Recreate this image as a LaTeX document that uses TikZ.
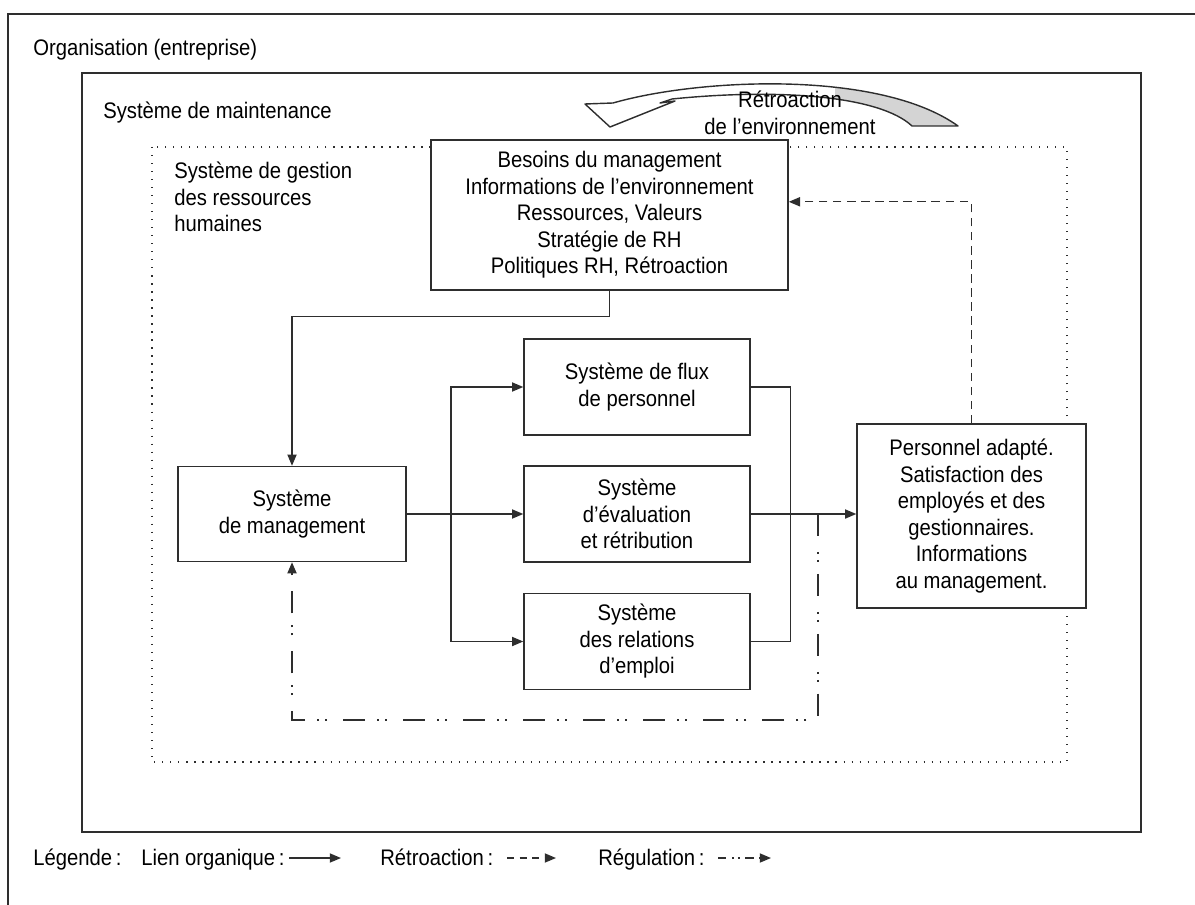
\documentclass[tikz,border=0pt]{standalone}
\usepackage{fontspec}
\setmainfont{Liberation Sans}[FakeStretch=0.9]
\usepackage{xcolor}
\usetikzlibrary{arrows.meta,positioning}

\definecolor{trait}{HTML}{2E2E2E}
\definecolor{ruban}{HTML}{D4D4D4}

\begin{document}
\begin{tikzpicture}[
    x=0.025cm, y=-0.025cm,
    txt/.style={font=\fontsize{16}{18.85}\selectfont, text=black, inner sep=0pt},
    boite/.style={rectangle, draw=trait, line width=1pt, fill=white, txt,
                  align=center},
    lien/.style={draw=trait, line width=1pt, -{Triangle[length=8pt,width=6.5pt]}},
    trait/.style={draw=trait, line width=1pt},
    retro/.style={lien, dash pattern=on 6pt off 4pt},
    regul/.style={lien, line width=1.2pt, dash pattern=on 15.6pt off 11.4pt on 1.4pt off 4.3pt on 1.4pt off 8.5pt}
  ]
  \useasboundingbox (0,0) rectangle (1195,905);

  % cadres
  \draw[trait, line width=1.3pt] (8,905) -- (8,14) -- (1195,14);
  \draw[trait, line width=1.1pt] (82,73) rectangle (1141,832);
  \draw[trait, line width=0.9pt, dash pattern=on 0.9pt off 4.8pt] (152,147) rectangle (1067,762);
  \node[txt, anchor=west] (org) at (33,50) {Organisation (entreprise)};
  \node[txt, anchor=west] (maint) at (103,113) {Système de maintenance};
  \node[txt, anchor=north west, align=left] (grh) at (174,162)
    {Système de gestion\\des ressources\\humaines};

  % ruban de retroaction
  \begin{scope}
    \clip (835,60) rectangle (975,140);
    \fill[ruban] (613,103) .. controls (700,78) and (880,70) .. (958,126)
      -- (912,126) .. controls (880,96) and (780,88) .. (672,99) -- cycle;
  \end{scope}
  \draw[trait, line width=1pt, line join=round]
    (585,104) -- (613,103) .. controls (700,78) and (880,70) .. (958,126)
    -- (912,126) .. controls (880,96) and (780,88) .. (672,99)
    -- (660,103) -- (675,101) -- (610,127) -- cycle;
  \node[txt, align=center] (retenv) at (790,113) {Rétroaction\\de l’environnement};

  % boites
  \node[boite, minimum width=8.925cm, minimum height=3.75cm] (besoins) at (609.5,215)
    {Besoins du management\\Informations de l’environnement\\Ressources, Valeurs\\Stratégie de RH\\Politiques RH, Rétroaction};
  \node[boite, minimum width=5.7cm, minimum height=2.375cm] (mgmt) at (292,514)
    {Système\\de management};
  \node[boite, minimum width=5.65cm, minimum height=2.4cm] (flux) at (637,387)
    {Système de flux\\de personnel};
  \node[boite, minimum width=5.65cm, minimum height=2.4cm] (eval) at (637,514)
    {Système\\d’évaluation\\et rétribution};
  \node[boite, minimum width=5.65cm, minimum height=2.4cm] (relat) at (637,641.5)
    {Système\\des relations\\d’emploi};
  \node[boite, minimum width=5.725cm, minimum height=4.6cm] (perso) at (971.5,516)
    {Personnel adapté.\\Satisfaction des\\employés et des\\gestionnaires.\\Informations\\au management.};

  % liens organiques
  \coordinate (br) at (451,514);
  \coordinate (rg) at (818,514);
  \draw[lien] (besoins.south) -- ++(0,26) -| (mgmt.north);
  \draw[lien] (mgmt.east) -- (eval.west);
  \draw[lien] (br) |- (flux.west);
  \draw[lien] (br) |- (relat.west);
  \draw[trait] (flux.east) -- ++(40,0) |- (relat.east);
  \draw[lien] (eval.east) -- (eval.east -| perso.west);

  % retroaction et regulation
  \draw[retro] (perso.north) |- ([yshift=0.33cm]besoins.east);
  \draw[regul] (rg) -- ++(0,206) -| (mgmt.south);

  % legende
  \node[txt, anchor=base west] (leg) at (33,865) {Légende\,:};
  \node[txt, anchor=base west] (leg1) at (141,865) {Lien organique\,:};
  \node[txt, anchor=base west] (leg2) at (380,865) {Rétroaction\,:};
  \node[txt, anchor=base west] (leg3) at (598,865) {Régulation\,:};
  \coordinate (l1a) at (289,858); \coordinate (l1b) at (341,858);
  \coordinate (l2a) at (507,858); \coordinate (l2b) at (556,858);
  \coordinate (l3a) at (718,858); \coordinate (l3b) at (771,858);
  \draw[lien] (l1a) -- (l1b);
  \draw[lien, dash pattern=on 5pt off 4pt] (l2a) -- (l2b);
  \draw[lien, dash pattern=on 6pt off 4pt on 1.2pt off 3pt on 1.2pt off 4pt] (l3a) -- (l3b);
\end{tikzpicture}
\end{document}
